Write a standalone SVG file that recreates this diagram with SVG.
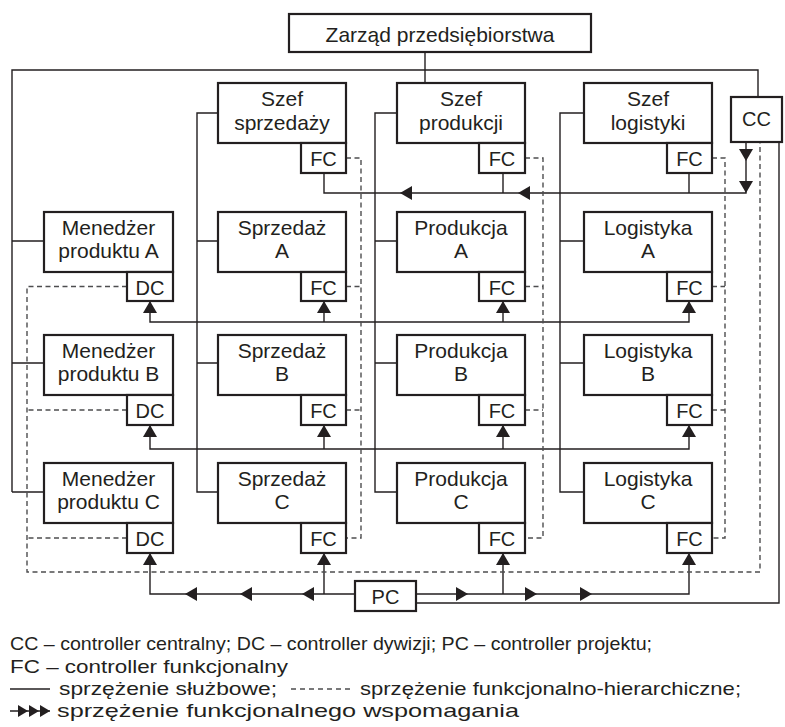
<svg xmlns="http://www.w3.org/2000/svg" xmlns:xlink="http://www.w3.org/1999/xlink" width="785" height="727" viewBox="0 0 785 727">
<style>
.box{fill:#fff;stroke:#231f20;stroke-width:2.2}
.t{font-family:"Liberation Sans",Arial,sans-serif;font-size:21px;fill:#231f20;text-anchor:middle}
.s{font-family:"Liberation Sans",Arial,sans-serif;font-size:20px;fill:#231f20;text-anchor:middle}
.lg{font-family:"Liberation Sans",Arial,sans-serif;font-size:18.5px;fill:#231f20}
.ln{fill:none;stroke:#231f20;stroke-width:1.4}
.dash{fill:none;stroke:#4d4d4f;stroke-width:1.4;stroke-dasharray:5,3.5}
.ah{fill:#231f20}
</style>
<defs>
<path id="ah" d="M0,0 L-12,-7 L-12,7 Z"/>
<path id="ahs" d="M0,0 L-10,-6 L-10,6 Z"/>
</defs>
<rect width="785" height="727" fill="#fff"/>
<g id="connectors">
<path class="ln" d="M425,52 V83"/>
<path class="ln" d="M12,492 V70 H758 V97 M12,241 H44 M12,363 H44 M12,492 H44"/>
<path class="ln" d="M218,113 H197 V492 H218 M197,241 H218 M197,363 H218"/>
<path class="ln" d="M397,113 H375 V492 H397 M375,241 H397 M375,363 H397"/>
<path class="ln" d="M584,113 H560 V492 H584 M560,241 H584 M560,363 H584"/>
<path class="ln" d="M324,173 V193 H746 V142 M503,173 V193 M689,173 V193"/>
<path class="ln" d="M150,301 V322 H689 V301 M324,322 V301 M503,322 V301"/>
<path class="ln" d="M150,425 V449 H689 V425 M324,449 V425 M503,449 V425"/>
<path class="ln" d="M355,594 H150 V553 M324,594 V553 M416,594 H689 V553 M503,594 V553"/>
<path class="ln" d="M416,603 H779 V142"/>
<path class="dash" d="M346,158 H361 V538 H346 M346,286.5 H361 M346,410 H361"/>
<path class="dash" d="M525,158 H543 V538 H525 M525,286.5 H543 M525,410 H543"/>
<path class="dash" d="M712,158 H725 V538 H712 M712,286.5 H725 M712,410 H725"/>
<path class="dash" d="M127,286.5 H27 V572 H760 V142 M127,410 H27 M127,538 H27"/>
<g class="ah">
<use xlink:href="#ah" transform="translate(746,161) rotate(90)"/>
<use xlink:href="#ah" transform="translate(746,193) rotate(90)"/>
<use xlink:href="#ah" transform="translate(518,193) rotate(180)"/>
<use xlink:href="#ah" transform="translate(400,193) rotate(180)"/>
<use xlink:href="#ah" transform="translate(150,301) rotate(-90)"/>
<use xlink:href="#ah" transform="translate(324,301) rotate(-90)"/>
<use xlink:href="#ah" transform="translate(503,301) rotate(-90)"/>
<use xlink:href="#ah" transform="translate(689,301) rotate(-90)"/>
<use xlink:href="#ah" transform="translate(150,425) rotate(-90)"/>
<use xlink:href="#ah" transform="translate(324,425) rotate(-90)"/>
<use xlink:href="#ah" transform="translate(503,425) rotate(-90)"/>
<use xlink:href="#ah" transform="translate(689,425) rotate(-90)"/>
<use xlink:href="#ah" transform="translate(150,553) rotate(-90)"/>
<use xlink:href="#ah" transform="translate(324,553) rotate(-90)"/>
<use xlink:href="#ah" transform="translate(503,553) rotate(-90)"/>
<use xlink:href="#ah" transform="translate(689,553) rotate(-90)"/>
<use xlink:href="#ah" transform="translate(185,594) rotate(180)"/>
<use xlink:href="#ah" transform="translate(240,594) rotate(180)"/>
<use xlink:href="#ah" transform="translate(302,594) rotate(180)"/>
<use xlink:href="#ah" transform="translate(468,594)"/>
<use xlink:href="#ah" transform="translate(537,594)"/>
<use xlink:href="#ah" transform="translate(592,594)"/>
</g>
</g>
<g id="zarzad"><rect class="box" x="289" y="14" width="302" height="38"/><text class="t" x="440" y="42">Zarząd przedsiębiorstwa</text></g>
<g id="szef-sprzedazy"><rect class="box" x="218" y="83" width="128" height="60"/><text class="t" x="282" y="106">Szef</text><text class="t" x="282" y="130">sprzedaży</text><rect class="box" x="301" y="143" width="45" height="30"/><text class="s" x="323.5" y="166">FC</text></g>
<g id="szef-produkcji"><rect class="box" x="397" y="83" width="128" height="60"/><text class="t" x="461" y="106">Szef</text><text class="t" x="461" y="130">produkcji</text><rect class="box" x="479" y="143" width="46" height="30"/><text class="s" x="502" y="166">FC</text></g>
<g id="szef-logistyki"><rect class="box" x="584" y="83" width="128" height="60"/><text class="t" x="648" y="106">Szef</text><text class="t" x="648" y="130">logistyki</text><rect class="box" x="667" y="143" width="45" height="30"/><text class="s" x="689.5" y="166">FC</text></g>
<g id="cc"><rect class="box" x="731" y="97" width="51" height="45"/><text class="s" x="756.5" y="126">CC</text></g>
<g id="menedzer-a"><rect class="box" x="44" y="212" width="129" height="60"/><text class="t" x="108.5" y="235">Menedżer</text><text class="t" x="108.5" y="258">produktu A</text><rect class="box" x="127" y="272" width="46" height="29"/><text class="s" x="150" y="295">DC</text></g>
<g id="menedzer-b"><rect class="box" x="44" y="335" width="129" height="60"/><text class="t" x="108.5" y="358">Menedżer</text><text class="t" x="108.5" y="381">produktu B</text><rect class="box" x="127" y="395" width="46" height="30"/><text class="s" x="150" y="418">DC</text></g>
<g id="menedzer-c"><rect class="box" x="44" y="463" width="129" height="60"/><text class="t" x="108.5" y="486">Menedżer</text><text class="t" x="108.5" y="509">produktu C</text><rect class="box" x="127" y="523" width="46" height="30"/><text class="s" x="150" y="546">DC</text></g>
<g id="sprzedaz-a"><rect class="box" x="218" y="212" width="128" height="60"/><text class="t" x="282" y="235">Sprzedaż</text><text class="t" x="282" y="258">A</text><rect class="box" x="301" y="272" width="45" height="29"/><text class="s" x="323.5" y="295">FC</text></g>
<g id="sprzedaz-b"><rect class="box" x="218" y="335" width="128" height="60"/><text class="t" x="282" y="358">Sprzedaż</text><text class="t" x="282" y="381">B</text><rect class="box" x="301" y="395" width="45" height="30"/><text class="s" x="323.5" y="418">FC</text></g>
<g id="sprzedaz-c"><rect class="box" x="218" y="463" width="128" height="60"/><text class="t" x="282" y="486">Sprzedaż</text><text class="t" x="282" y="509">C</text><rect class="box" x="301" y="523" width="45" height="30"/><text class="s" x="323.5" y="546">FC</text></g>
<g id="produkcja-a"><rect class="box" x="397" y="212" width="128" height="60"/><text class="t" x="461" y="235">Produkcja</text><text class="t" x="461" y="258">A</text><rect class="box" x="479" y="272" width="46" height="29"/><text class="s" x="502" y="295">FC</text></g>
<g id="produkcja-b"><rect class="box" x="397" y="335" width="128" height="60"/><text class="t" x="461" y="358">Produkcja</text><text class="t" x="461" y="381">B</text><rect class="box" x="479" y="395" width="46" height="30"/><text class="s" x="502" y="418">FC</text></g>
<g id="produkcja-c"><rect class="box" x="397" y="463" width="128" height="60"/><text class="t" x="461" y="486">Produkcja</text><text class="t" x="461" y="509">C</text><rect class="box" x="479" y="523" width="46" height="30"/><text class="s" x="502" y="546">FC</text></g>
<g id="logistyka-a"><rect class="box" x="584" y="212" width="128" height="60"/><text class="t" x="648" y="235">Logistyka</text><text class="t" x="648" y="258">A</text><rect class="box" x="667" y="272" width="45" height="29"/><text class="s" x="689.5" y="295">FC</text></g>
<g id="logistyka-b"><rect class="box" x="584" y="335" width="128" height="60"/><text class="t" x="648" y="358">Logistyka</text><text class="t" x="648" y="381">B</text><rect class="box" x="667" y="395" width="45" height="30"/><text class="s" x="689.5" y="418">FC</text></g>
<g id="logistyka-c"><rect class="box" x="584" y="463" width="128" height="60"/><text class="t" x="648" y="486">Logistyka</text><text class="t" x="648" y="509">C</text><rect class="box" x="667" y="523" width="45" height="30"/><text class="s" x="689.5" y="546">FC</text></g>
<g id="pc"><rect class="box" x="355" y="581" width="61" height="30"/><text class="s" x="385.5" y="604">PC</text></g>
<g id="legend">
<text class="lg" x="10" y="650" textLength="642" lengthAdjust="spacingAndGlyphs">CC – controller centralny; DC – controller dywizji; PC – controller projektu;</text>
<text class="lg" x="10" y="673" textLength="278" lengthAdjust="spacingAndGlyphs">FC – controller funkcjonalny</text>
<path class="ln" d="M10,689 H50"/>
<text class="lg" x="59" y="695" textLength="218" lengthAdjust="spacingAndGlyphs">sprzężenie służbowe;</text>
<path class="dash" d="M291,689 H350" style="stroke-dasharray:5,4"/>
<text class="lg" x="360" y="695" textLength="381" lengthAdjust="spacingAndGlyphs">sprzężenie funkcjonalno-hierarchiczne;</text>
<path class="ln" d="M10,711 H50"/>
<g class="ah"><use xlink:href="#ahs" transform="translate(28,711)"/><use xlink:href="#ahs" transform="translate(39,711)"/><use xlink:href="#ahs" transform="translate(50,711)"/></g>
<text class="lg" x="57" y="717" textLength="462" lengthAdjust="spacingAndGlyphs">sprzężenie funkcjonalnego wspomagania</text>
</g>
</svg>
